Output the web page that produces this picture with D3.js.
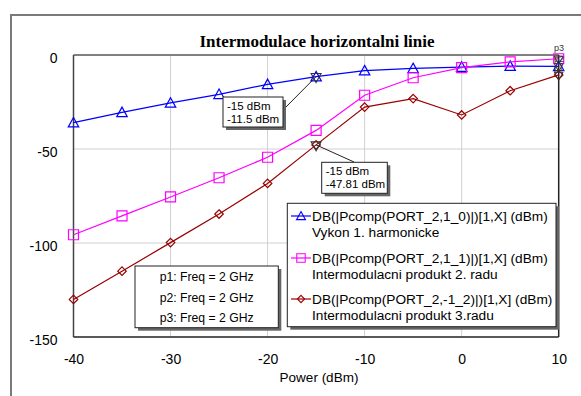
<!DOCTYPE html>
<html>
<head>
<meta charset="utf-8">
<script src="https://cdn.jsdelivr.net/npm/d3@7"></script>
<style>
  html, body { margin: 0; padding: 0; background: #fff; }
  svg { display: block; }
  text { font-family: "Liberation Sans", Arial, sans-serif; }
</style>
</head>
<body>
<svg id="chart" width="581" height="396"></svg>
<script>
// Input power sweep (dBm)
const power = [-40, -35, -30, -25, -20, -15, -10, -5, 0, 5, 10];

// Output powers of the components (dBm)
const fundamental = [-36, -30.5, -25.5, -20.9, -15.6, -11.5, -8.3, -7.1, -6.4, -5.9, -6.0];
const imd2 = [-95.6, -85.6, -75.5, -65.3, -54.4, -40.1, -21.4, -12.1, -6.7, -3.7, -2.0];
const imd3 = [-130, -115, -99.8, -84.6, -68.3, -47.81, -27.7, -23.2, -31.9, -19.0, -10.6];

const xTicks = [-40, -30, -20, -10, 0, 10];
const yTicks = [0, -50, -100, -150];

const seriesNames = [
  ["DB(|Pcomp(PORT_2,1_0)|)[1,X] (dBm)", "Vykon 1. harmonicke"],
  ["DB(|Pcomp(PORT_2,1_1)|)[1,X] (dBm)", "Intermodulacni produkt 2. radu"],
  ["DB(|Pcomp(PORT_2,-1_2)|)[1,X] (dBm)", "Intermodulacni produkt 3.radu"]
];
const markerLines = ["p1: Freq = 2 GHz", "p2: Freq = 2 GHz", "p3: Freq = 2 GHz"];

const svg = d3.select("#chart");
const pL = 73.5, pR = 558.7, pT = 55, pB = 337;

const x = d3.scaleLinear().domain([-40, 10]).range([pL, pR]);
const y = d3.scaleLinear().domain([-150, 0]).range([pB, pT]);

// Outer frame
svg.append("rect").attr("x", 11).attr("y", 15).attr("width", 600).attr("height", 400)
  .attr("fill", "none").attr("stroke", "#7a7a7a").attr("stroke-width", 2);

// Title
svg.append("text").attr("x", 317).attr("y", 47).attr("text-anchor", "middle")
  .style("font-family", "'Liberation Serif', 'Times New Roman', serif")
  .style("font-weight", "bold").style("font-size", "17px").text("Intermodulace horizontalni linie");

// Grid
const grid = svg.append("g").attr("stroke", "#d0d0d0").attr("stroke-width", 1);
xTicks.filter(t => t > -40 && t < 10).forEach(t =>
  grid.append("line").attr("x1", x(t)).attr("x2", x(t)).attr("y1", pT).attr("y2", pB));
yTicks.filter(t => t > -150 && t < 0).forEach(t =>
  grid.append("line").attr("x1", pL).attr("x2", pR).attr("y1", y(t)).attr("y2", y(t)));

// Axes (labels only, the frame is drawn separately); plain hyphen for negatives
const fmt = d => String(d);
const xAxis = svg.append("g").attr("transform", `translate(0,${pB})`)
  .call(d3.axisBottom(x).tickValues(xTicks).tickSize(0).tickPadding(17).tickFormat(fmt));
const yAxis = svg.append("g").attr("transform", `translate(${pL},0)`)
  .call(d3.axisLeft(y).tickValues(yTicks).tickSize(0).tickPadding(16).tickFormat(fmt));
[xAxis, yAxis].forEach(a => {
  a.select(".domain").remove();
  a.selectAll("text").style("font-size", "14px").attr("fill", "#000")
    .style("font-family", "'Liberation Sans', Arial, sans-serif");
});
yAxis.selectAll("text").attr("dy", "0.55em");

svg.append("text").attr("x", 319).attr("y", 382).attr("text-anchor", "middle")
  .style("font-size", "13.5px").text("Power (dBm)");

// Plot frame
svg.append("line").attr("x1", pL).attr("x2", pR).attr("y1", pT).attr("y2", pT)
  .attr("stroke", "#808080").attr("stroke-width", 2);
svg.append("line").attr("x1", pL).attr("x2", pL).attr("y1", pT).attr("y2", pB)
  .attr("stroke", "#444").attr("stroke-width", 1.5);
svg.append("line").attr("x1", pL).attr("x2", pR).attr("y1", pB).attr("y2", pB)
  .attr("stroke", "#222").attr("stroke-width", 1.5);
svg.append("line").attr("x1", pR).attr("x2", pR).attr("y1", pT).attr("y2", pB)
  .attr("stroke", "#222").attr("stroke-width", 1.5);

// Marker shapes
const triUp = (s) => `M0,${-s * 0.55}L${s * 0.55},${s * 0.45}L${-s * 0.55},${s * 0.45}Z`;
const triDown = (s) => `M0,${s * 0.55}L${s * 0.55},${-s * 0.45}L${-s * 0.55},${-s * 0.45}Z`;
const square = (s) => `M${-s / 2},${-s / 2}h${s}v${s}h${-s}Z`;
const diamond = (s) => `M0,${-s / 2}L${s / 2},0L0,${s / 2}L${-s / 2},0Z`;

const series = [
  { values: fundamental, color: "#0000ff", shape: triUp, size: 9.5 },
  { values: imd2, color: "#ff00ff", shape: square, size: 10 },
  { values: imd3, color: "#990000", shape: diamond, size: 8.5 }
];

const line = d3.line().x(d => x(d[0])).y(d => y(d[1]));

series.forEach(s => {
  const pts = power.map((p, i) => [p, s.values[i]]);
  svg.append("path").datum(pts).attr("d", line).attr("fill", "none")
    .attr("stroke", s.color).attr("stroke-width", 1.2);
  svg.append("g").selectAll("path").data(pts).join("path")
    .attr("transform", d => `translate(${x(d[0])},${y(d[1])})`)
    .attr("d", s.shape(s.size)).attr("fill", "none").attr("stroke", s.color).attr("stroke-width", 1.2);
});

// Sweep markers at the end of each trace
const endIdx = power.length - 1;
[imd2, fundamental, imd3].forEach(v => {
  svg.append("path").attr("transform", `translate(${x(power[endIdx])},${y(v[endIdx]) + 1})`)
    .attr("d", triDown(8)).attr("fill", "none").attr("stroke", "#333").attr("stroke-width", 1);
});
svg.append("text").attr("x", 554).attr("y", 51).style("font-size", "9px").attr("fill", "#333").text("p3");
svg.append("text").attr("x", 554).attr("y", 62).style("font-size", "9px").attr("fill", "#333").text("p2");
svg.append("text").attr("x", 554).attr("y", 71).style("font-size", "9px").attr("fill", "#333").text("p1");

// Data readouts at -15 dBm input
const readIdx = power.indexOf(-15);
function readout(val, bx, by, bw, bh, ax, ay) {
  const px = x(power[readIdx]), py = y(val);
  svg.append("line").attr("x1", px).attr("y1", py).attr("x2", ax).attr("y2", ay)
    .attr("stroke", "#222").attr("stroke-width", 1);
  svg.append("path").attr("transform", `translate(${px},${py + 1})`)
    .attr("d", triDown(9)).attr("fill", "none").attr("stroke", "#333").attr("stroke-width", 1.1);
  svg.append("rect").attr("x", bx + 3).attr("y", by + 3).attr("width", bw).attr("height", bh).attr("fill", "#666");
  svg.append("rect").attr("x", bx).attr("y", by).attr("width", bw).attr("height", bh)
    .attr("fill", "#fff").attr("stroke", "#222").attr("stroke-width", 1);
  svg.append("text").attr("x", bx + 4).attr("y", by + 13).style("font-size", "11.5px").text(power[readIdx] + " dBm");
  svg.append("text").attr("x", bx + 4).attr("y", by + 25.5).style("font-size", "11.5px").text(val + " dBm");
}
readout(fundamental[readIdx], 223, 97, 60, 30, 285, 108);
readout(imd3[readIdx], 321.7, 162.3, 65.6, 31, 354, 162);

// Legend
const lg = { x: 287.3, y: 203.3, w: 268.7, h: 123.4 };
svg.append("rect").attr("x", lg.x + 3).attr("y", lg.y + 3).attr("width", lg.w).attr("height", lg.h).attr("fill", "#666");
svg.append("rect").attr("x", lg.x).attr("y", lg.y).attr("width", lg.w).attr("height", lg.h)
  .attr("fill", "#fff").attr("stroke", "#222").attr("stroke-width", 1);
const rowY = [216, 258, 299];
series.forEach((s, i) => {
  const ry = rowY[i];
  svg.append("line").attr("x1", 291).attr("x2", 311).attr("y1", ry).attr("y2", ry)
    .attr("stroke", s.color).attr("stroke-width", 1.2);
  svg.append("path").attr("transform", `translate(301,${ry})`).attr("d", s.shape(s.size * 0.85))
    .attr("fill", "none").attr("stroke", s.color).attr("stroke-width", 1.1);
  svg.append("text").attr("x", 312).attr("y", ry + 5).style("font-size", "13.7px").text(seriesNames[i][0]);
  svg.append("text").attr("x", 312).attr("y", ry + 20.5).style("font-size", "13.7px").text(seriesNames[i][1]);
});

// Marker list
const mb = { x: 135, y: 266, w: 143.3, h: 61.7 };
svg.append("rect").attr("x", mb.x + 3).attr("y", mb.y + 3).attr("width", mb.w).attr("height", mb.h).attr("fill", "#666");
svg.append("rect").attr("x", mb.x).attr("y", mb.y).attr("width", mb.w).attr("height", mb.h)
  .attr("fill", "#fff").attr("stroke", "#222").attr("stroke-width", 1);
markerLines.forEach((t, i) => {
  svg.append("text").attr("x", mb.x + mb.w / 2).attr("y", 281 + i * 20.5).attr("text-anchor", "middle")
    .style("font-size", "12.2px").text(t);
});
</script>
</body>
</html>
